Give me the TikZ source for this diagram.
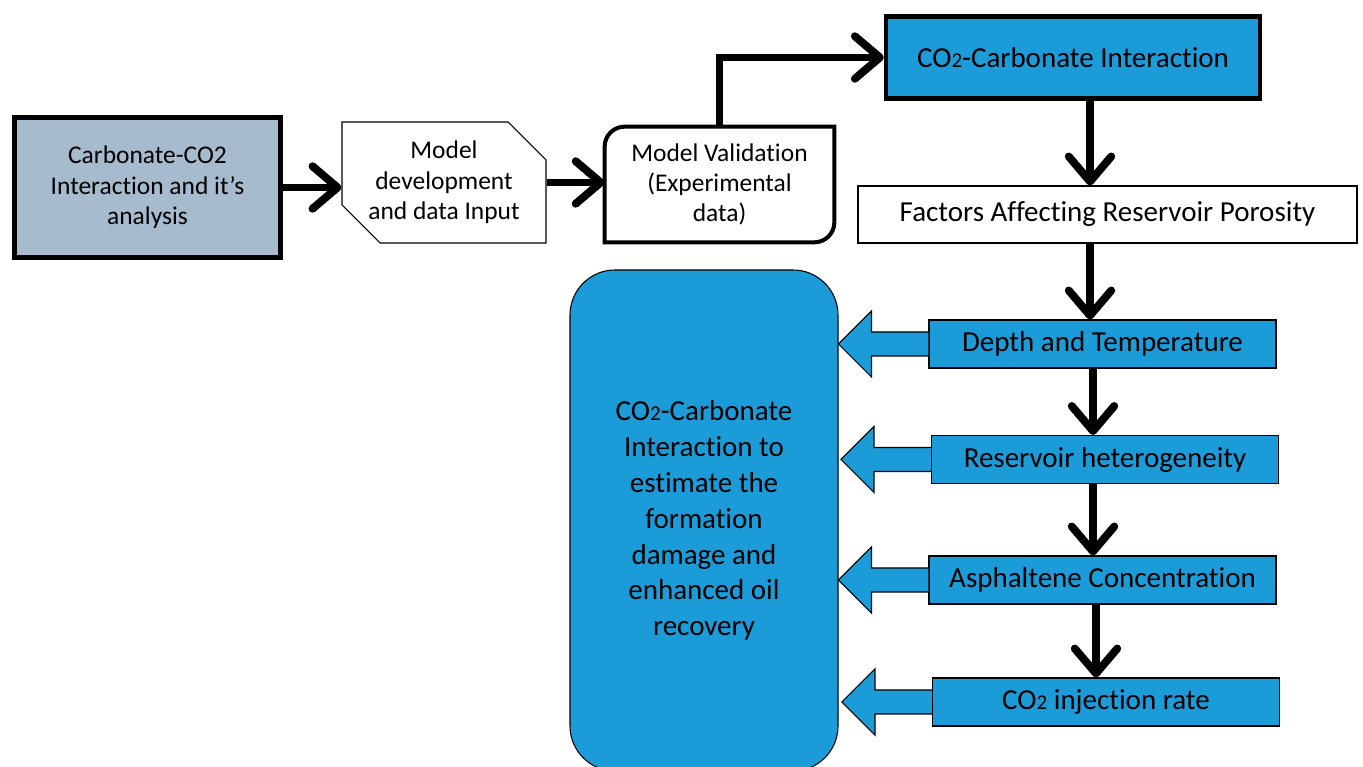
\documentclass[tikz,border=0pt]{standalone}
\usepackage{fontspec}
\setmainfont{Carlito}[Ligatures=NoCommon]
\usepackage{tikz}
\usetikzlibrary{positioning}
\usetikzlibrary{arrows.meta}
\usetikzlibrary{shapes.misc}
\usepackage{xcolor}
\definecolor{steelgrey}{HTML}{A7BBCE}
\definecolor{boxblue}{HTML}{1B9BD7}
\newcommand{\cotwo}{CO{\fontsize{12}{14}\selectfont 2}}
\newcommand{\txtfont}{\fontsize{14.5}{17.3}\selectfont}
\newcommand{\bigfont}{\fontsize{16.5}{20}\selectfont}

\begin{document}
\begin{tikzpicture}[
    thinbox/.style={draw, line width=0.6pt, align=center, font=\txtfont, inner sep=0pt},
    thickbox/.style={draw, line width=2.8pt, align=center, font=\txtfont, inner sep=0pt},
    bluebox/.style={thinbox, fill=boxblue, font=\bigfont, minimum width=6.94cm, minimum height=0.96cm},
    flow/.style={line width=4.5pt, -{Straight Barb[length=0.5cm, width=0.85cm, round]}},
    blk/.style={draw, fill=boxblue, line width=0.6pt, line join=miter}]
  \path[use as bounding box] (0,0) rectangle (27.26,15.34);
  \clip (0,0) rectangle (27.26,15.34);

  \node (lbox) [thickbox, fill=steelgrey, minimum width=5.32cm, minimum height=2.8cm] at (2.95,11.59)
    {Carbonate-CO2\\Interaction and it’s\\analysis};
  \node (mdev) [thinbox, chamfered rectangle, chamfered rectangle corners={north east, south west},
    chamfered rectangle xsep=0.38cm, chamfered rectangle ysep=0.38cm,
    minimum width=4.08cm, minimum height=2.42cm] at (8.88,11.69)
    {Model\\development\\and data Input};
  \node (mval) [align=center, font=\txtfont, inner sep=0pt, minimum width=4.58cm, minimum height=2.30cm] at (14.39,11.65)
    {Model Validation\\(Experimental\\data)};
  \draw[line width=2.3pt] (mval.south west) -- ([yshift=-0.4cm]mval.north west)
    arc[start angle=180, end angle=90, radius=0.4cm] -- (mval.north east)
    -- ([yshift=0.4cm]mval.south east) arc[start angle=0, end angle=-90, radius=0.4cm] -- cycle;
  \node (top) [thickbox, line width=2.5pt, fill=boxblue, font=\bigfont, minimum width=7.48cm, minimum height=1.64cm] at (21.46,14.19)
    {\cotwo-Carbonate Interaction};
  \node (fac) [thinbox, font=\bigfont, minimum width=9.98cm, minimum height=1.14cm] at (22.15,11.05)
    {Factors Affecting Reservoir Porosity};
  \node (dep) [bluebox] at (22.05,8.46) {Depth and Temperature};
  \node (res) [bluebox] at (22.10,6.15) {Reservoir heterogeneity};
  \node (asph) [bluebox] at (22.05,3.74) {Asphaltene Concentration};
  \node (inj) [bluebox] at (22.12,1.30) {\cotwo{} injection rate};
  \node (big) [thinbox, fill=boxblue, rounded corners=0.9cm, minimum width=5.36cm, minimum height=10.02cm,
    font=\fontsize{16.5}{20.4}\selectfont] at (14.08,4.93)
    {\cotwo-Carbonate\\Interaction to\\estimate the\\formation\\damage and\\enhanced oil\\recovery};

  % main flow
  \draw[flow] (lbox.east) -- (lbox.east -| mdev.west);
  \draw[flow] (mdev.east) -- (mdev.east -| mval.west);
  \draw[flow] (mval.north) |- (top.west);
  \foreach \a/\b/\s in {top/fac/0.34, fac/dep/-0.35, dep/res/-0.19, res/asph/-0.24, asph/inj/-0.13} {
    \coordinate (s) at ([xshift=\s cm]\a.south);
    \draw[flow] (s) -- (s |- \b.north);
  }

  % block arrows into the big box
  \foreach \b in {dep, res, asph, inj}
    \draw[blk] ([yshift=0.24cm]\b.west) -- ++(-1.14,0) -- ++(0,0.42) -- ++(-0.66,-0.66)
      -- ++(0.66,-0.66) -- ++(0,0.42) -- ++(1.14,0);
\end{tikzpicture}
\end{document}
